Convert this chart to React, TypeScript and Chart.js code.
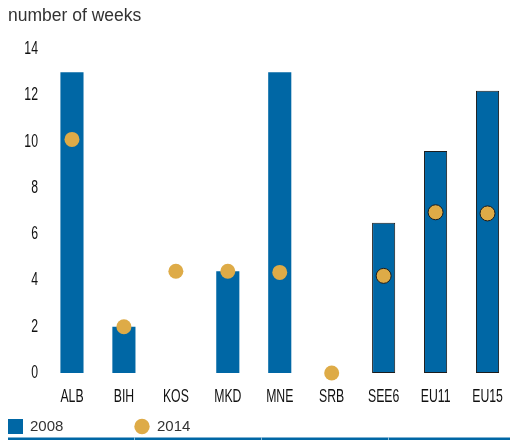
import React, { useEffect, useRef } from "react";
import { Chart, registerables } from "chart.js";
Chart.register(...registerables);

const categories = ["ALB", "BIH", "KOS", "MKD", "MNE", "SRB", "SEE6", "EU11", "EU15"];
const values2008 = [13, 2, 0, 4.4, 13, 0, 6.5, 9.6, 12.2];
const values2014 = [10.1, 2.0, 4.4, 4.4, 4.35, 0, 4.2, 6.95, 6.9];
const seriesLabels = ["2008", "2014"];
const outlined = ["SEE6", "EU11", "EU15"];
const yMin = 0;
const yMax = 14;
const yStep = 2;
const titleText = "number of weeks";

const BLUE = "#0067A5";
const GOLD = "#DEAB47";
const OUTLINE = "#1c1c1c";
const CONDENSE = 0.7;
const NARROW = "CondensedFace, 'Liberation Sans', Arial, sans-serif";
const SANS = "'Liberation Sans', Arial, sans-serif";

// Render axis tick labels in a condensed width (the reference uses a condensed face).
const condensePlugin = {
  id: "condenseTicks",
  beforeDraw(chart: any) {
    const ctx = chart.ctx;
    if (ctx.__origFillText) return;
    const orig = ctx.fillText;
    ctx.__origFillText = orig;
    ctx.fillText = function (text: string, x: number, y: number, maxW?: number) {
      if (String(this.font).includes("CondensedFace")) {
        this.save();
        this.translate(x, y);
        this.scale(CONDENSE, 1);
        if (maxW !== undefined) orig.call(this, text, 0, 0, maxW / CONDENSE);
        else orig.call(this, text, 0, 0);
        this.restore();
      } else if (maxW !== undefined) {
        orig.call(this, text, x, y, maxW);
      } else {
        orig.call(this, text, x, y);
      }
    };
  },
  afterDraw(chart: any) {
    const ctx = chart.ctx;
    if (ctx.__origFillText) {
      ctx.fillText = ctx.__origFillText;
      delete ctx.__origFillText;
    }
  },
};

const legendPlugin = {
  id: "customLegend",
  afterDraw(chart: any) {
    const ctx = chart.ctx;
    const ds = chart.data.datasets;
    const barDs = ds.find((d: any) => d.type === "bar");
    const ptDs = ds.find((d: any) => d.type === "line");
    ctx.save();
    ctx.font = `15px ${SANS}`;
    ctx.textBaseline = "alphabetic";
    ctx.fillStyle = barDs.backgroundColor;
    ctx.fillRect(0, 411, 15, 15);
    ctx.fillStyle = "#333";
    ctx.fillText(barDs.label, 22, 423);
    ctx.beginPath();
    ctx.arc(134, 418.5, 7.7, 0, Math.PI * 2);
    ctx.fillStyle = ptDs.pointBackgroundColor;
    ctx.fill();
    ctx.fillStyle = "#333";
    ctx.fillText(ptDs.label, 149, 423);
    ctx.fillStyle = BLUE;
    ctx.fillRect(0, 429.5, chart.width, 3);
    ctx.fillStyle = "rgba(255,255,255,0.55)";
    [126, 253, 380].forEach((x) => ctx.fillRect(x, 429.5, 1, 3));
    ctx.restore();
  },
};

const CANVAS_W = 514;

export default function App() {
  const ref = useRef<HTMLCanvasElement>(null);
  useEffect(() => {
    const isOut = categories.map((c) => outlined.includes(c));
    const chart = new Chart(ref.current as HTMLCanvasElement, {
      type: "bar",
      data: {
        labels: categories,
        datasets: [
          {
            type: "line",
            label: seriesLabels[1],
            data: values2014,
            showLine: false,
            pointRadius: 7.5,
            pointHoverRadius: 7.5,
            pointBackgroundColor: GOLD,
            pointBorderColor: isOut.map((o) => (o ? OUTLINE : "rgba(0,0,0,0)")),
            pointBorderWidth: isOut.map((o) => (o ? 1 : 0)),
            clip: false,
            order: 1,
          } as any,
          {
            type: "bar",
            label: seriesLabels[0],
            data: values2008,
            backgroundColor: BLUE,
            borderColor: isOut.map((o) => (o ? OUTLINE : "rgba(0,0,0,0)")),
            borderWidth: isOut.map((o) => (o ? 1 : 0)),
            borderSkipped: false,
            barPercentage: 0.445,
            categoryPercentage: 1,
            order: 2,
          } as any,
        ],
      },
      options: {
        responsive: false,
        animation: false,
        devicePixelRatio: 1,
        events: [],
        layout: { padding: { top: 0, left: 0, right: 0, bottom: 27 } },
        plugins: {
          legend: { display: false },
          tooltip: { enabled: false },
          title: {
            display: true,
            text: titleText,
            align: "start",
            color: "#333",
            font: { family: SANS, size: 17.5, weight: "normal" },
            padding: { top: -2, bottom: 22.2 },
          },
        },
        scales: {
          x: {
            grid: { display: false, drawTicks: false },
            border: { display: false },
            ticks: {
              color: "#111",
              font: { family: NARROW, size: 17.5 },
              padding: 14,
              maxRotation: 0,
              autoSkip: false,
            },
            afterFit: (s: any) => {
              s.height = 40;
              s.paddingLeft = 0;
              s.paddingRight = 0;
            },
          },
          y: {
            min: yMin,
            max: yMax,
            grid: { display: false, drawTicks: false },
            border: { display: false },
            ticks: {
              stepSize: yStep,
              color: "#111",
              font: { family: NARROW, size: 17.5 },
              padding: 8,
            },
            afterFit: (s: any) => {
              s.width = 38;
            },
          },
        },
      },
      plugins: [condensePlugin, legendPlugin],
    });
    return () => chart.destroy();
  }, []);
  return (
    <div
      style={{
        position: "fixed",
        left: 8,
        top: 8,
        width: 502,
        height: 432,
        overflow: "hidden",
        background: "#fff",
      }}
    >
      <canvas
        ref={ref}
        width={CANVAS_W}
        height={432}
        style={{ display: "block", width: CANVAS_W, height: 432 }}
      />
    </div>
  );
}
